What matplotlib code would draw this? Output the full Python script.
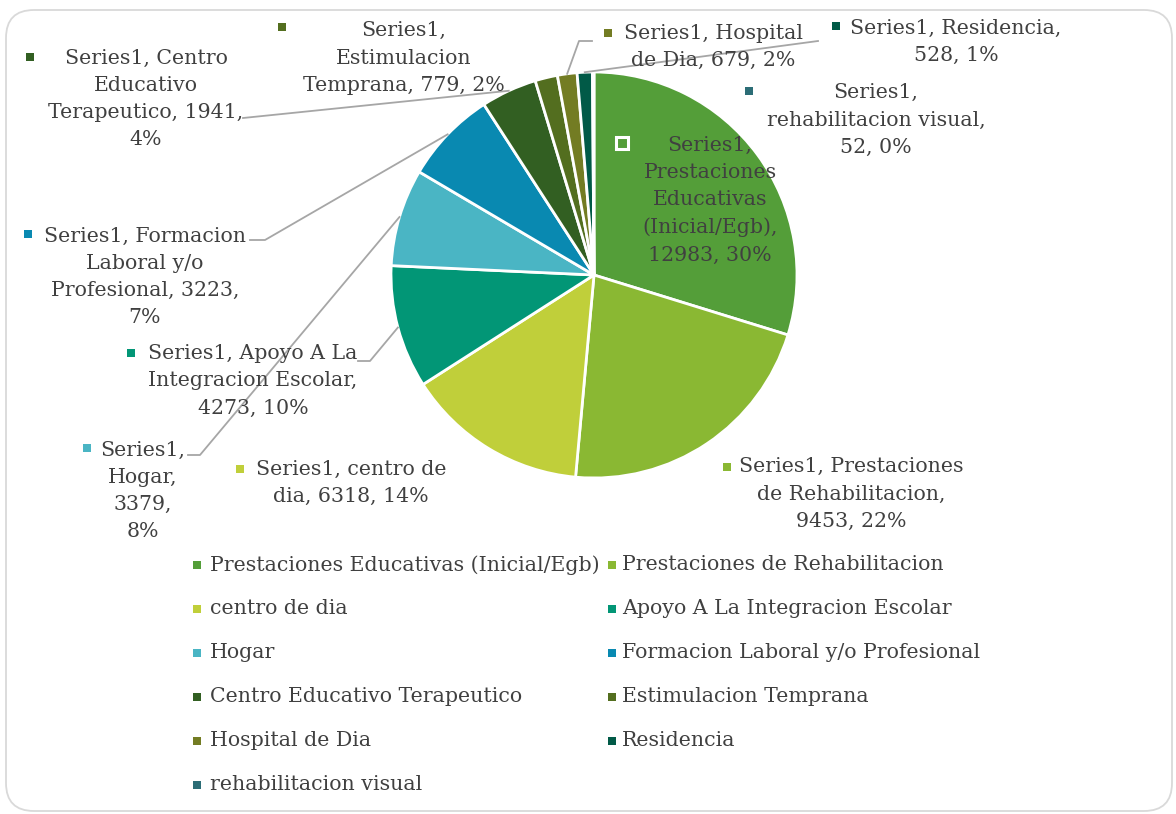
import numpy as np
import matplotlib
matplotlib.use("Agg")
import matplotlib.pyplot as plt
from matplotlib.patches import FancyBboxPatch

# ---------------- data ----------------
categories = ["Prestaciones Educativas (Inicial/Egb)", "Prestaciones de Rehabilitacion",
              "centro de dia", "Apoyo A La Integracion Escolar", "Hogar",
              "Formacion Laboral y/o Profesional", "Centro Educativo Terapeutico",
              "Estimulacion Temprana", "Hospital de Dia", "Residencia", "rehabilitacion visual"]
values = [12983, 9453, 6318, 4273, 3379, 3223, 1941, 779, 679, 528, 52]
series_name = "Series1"
colors = ["#549E39", "#8AB833", "#C0CF3A", "#029676", "#4AB5C4", "#0989B1",
          "#325F22", "#536E1F", "#737C23", "#015A47", "#2C6D76"]

# label line-break templates (text layout of each data label)
label_templates = [
    "{s},\nPrestaciones\nEducativas\n(Inicial/Egb),\n{v}, {p}%",
    "{s}, Prestaciones\nde Rehabilitacion,\n{v}, {p}%",
    "{s}, centro de\ndia, {v}, {p}%",
    "{s}, Apoyo A La\nIntegracion Escolar,\n{v}, {p}%",
    "{s},\nHogar,\n{v},\n{p}%",
    "{s}, Formacion\nLaboral y/o\nProfesional, {v},\n{p}%",
    "{s}, Centro\nEducativo\nTerapeutico, {v},\n{p}%",
    "{s},\nEstimulacion\nTemprana, {v}, {p}%",
    "{s}, Hospital\nde Dia, {v}, {p}%",
    "{s}, Residencia,\n{v}, {p}%",
    "{s},\nrehabilitacion visual,\n{v}, {p}%",
]

# ---------------- layout (pixel coords, y from top) ----------------
W, H = 1176, 814
CX, CY, R = 594, 275, 203
label_pos = [(710, 200), (851, 494), (351, 483), (253, 381), (143, 491),
             (145, 277), (146, 99), (404, 58), (713, 47), (956, 42), (876, 120)]
marker_pos = [(622, 143), (727, 467), (240, 469), (131, 353), (87, 448),
              (28, 234), (30, 57), (282, 27), (608, 33), (836, 26), (749, 91)]
leader_pts = {
    3: [(358, 361), (370, 361)],
    4: [(188, 455), (200, 455)],
    5: [(250, 240), (265, 240)],
    6: [(243, 118)],
    8: [(592, 41), (579, 41)],
    9: [(818, 41)],
}

def Y(py):
    return H - py

TXT = "#404040"
FONT = "DejaVu Serif"
FS = 14.8

fig = plt.figure(figsize=(W / 100, H / 100), dpi=100)
ax = fig.add_axes([0, 0, 1, 1])

wedges, _ = ax.pie(values, colors=colors, startangle=90, counterclock=False,
                   center=(CX, Y(CY)), radius=R,
                   wedgeprops=dict(edgecolor="white", linewidth=2.0))
ax.set_xlim(0, W)
ax.set_ylim(0, H)
ax.set_aspect("equal")
ax.axis("off")

border = FancyBboxPatch((6, Y(811)), 1166, 801, boxstyle="round,pad=0,rounding_size=28",
                        fill=False, edgecolor="#D9D9D9", linewidth=1.3,
                        transform=ax.transData, zorder=0)
ax.add_patch(border)

total = sum(values)
for i, (v, tmpl) in enumerate(zip(values, label_templates)):
    p = int(round(v / total * 100))
    txt = tmpl.format(s=series_name, v=v, p=p)
    lx, ly = label_pos[i]
    ax.text(lx, Y(ly), txt, ha="center", va="center", fontsize=FS, family=FONT,
            color=TXT, linespacing=1.55, zorder=5)
    mx, my = marker_pos[i]
    if i == 0:
        ax.plot([mx], [Y(my)], marker="s", markersize=8, color=colors[i],
                markeredgecolor="white", markeredgewidth=2.2, zorder=6)
    else:
        ax.plot([mx], [Y(my)], marker="s", markersize=5.5, color=colors[i],
                markeredgewidth=0, zorder=6)
    if i in leader_pts:
        w = wedges[i]
        mid = np.deg2rad((w.theta1 + w.theta2) / 2)
        ex = CX + R * np.cos(mid)
        ey = Y(CY) + R * np.sin(mid)
        pts = [(x, Y(y)) for x, y in leader_pts[i]] + [(ex, ey)]
        xs, ys = zip(*pts)
        ax.plot(xs, ys, color="#A6A6A6", linewidth=1.3, zorder=4)

leg_x_marker = [197, 612]
leg_x_text = [210, 622]
leg_y0, leg_dy = 565, 44
for i, name in enumerate(categories):
    col = i % 2
    row = i // 2
    yy = leg_y0 + row * leg_dy
    ax.plot([leg_x_marker[col]], [Y(yy)], marker="s", markersize=5.5,
            color=colors[i], markeredgewidth=0)
    ax.text(leg_x_text[col], Y(yy), name, ha="left", va="center", fontsize=FS,
            family=FONT, color=TXT)

fig.savefig("out.png", dpi=100, facecolor="white")
